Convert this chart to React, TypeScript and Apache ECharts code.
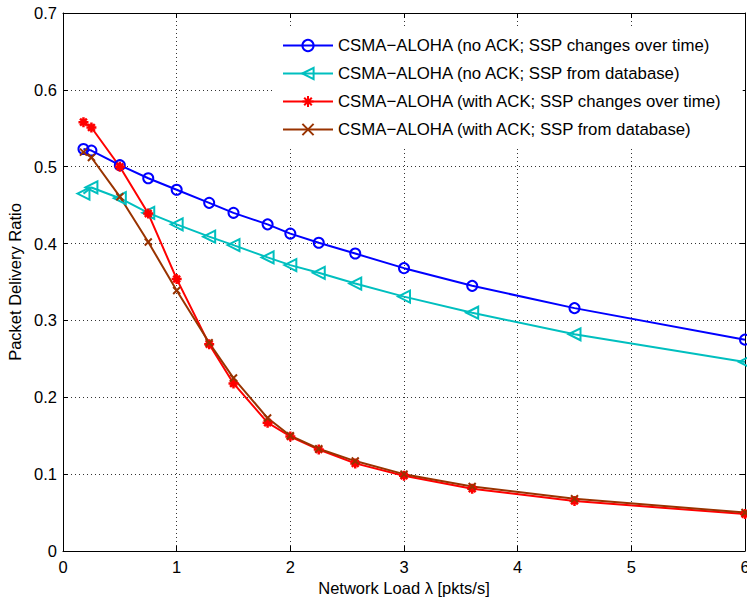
import React, { useEffect, useRef } from "react";
import * as echarts from "echarts";

const xValues = [0.18, 0.25, 0.5, 0.75, 1, 1.286, 1.5, 1.8, 2, 2.25, 2.571, 3, 3.6, 4.5, 6];
const noAckChanges = [0.523, 0.521, 0.502, 0.485, 0.47, 0.453, 0.44, 0.425, 0.413, 0.401, 0.387, 0.368, 0.345, 0.316, 0.275];
const noAckDatabase = [0.465, 0.473, 0.459, 0.44, 0.425, 0.409, 0.398, 0.382, 0.372, 0.362, 0.348, 0.331, 0.31, 0.282, 0.246];
const ackChanges = [0.558, 0.551, 0.5, 0.439, 0.354, 0.269, 0.218, 0.167, 0.149, 0.132, 0.114, 0.098, 0.081, 0.065, 0.048];
const ackDatabase = [0.519, 0.512, 0.461, 0.402, 0.339, 0.271, 0.225, 0.173, 0.15, 0.133, 0.117, 0.1, 0.084, 0.068, 0.05];

const seriesNames = [
  "CSMA\u2212ALOHA (no ACK; SSP changes over time)",
  "CSMA\u2212ALOHA (no ACK; SSP from database)",
  "CSMA\u2212ALOHA (with ACK; SSP changes over time)",
  "CSMA\u2212ALOHA (with ACK; SSP from database)",
];
const xTitle = "Network Load \u03bb [pkts/s]";
const yTitle = "Packet Delivery Ratio";

const FONT = "Liberation Sans, Arial, Helvetica, sans-serif";
const FS = 16.5;

const triLeft = "path://M0,5L10,0L10,10Z";
const asterisk = "path://M5,0L5,10M0,5L10,5M1.6,1.6L8.4,8.4M8.4,1.6L1.6,8.4";
const cross = "path://M0,0L10,10M10,0L0,10";

export default function App() {
  const ref = useRef<HTMLDivElement>(null);
  useEffect(() => {
    if (!ref.current) return;
    const chart = echarts.init(ref.current, null, { renderer: "svg" });
    const mk = (name: string, ys: number[], color: string, symbol: string, size: number, bw: number) => ({
      name,
      type: "line",
      data: xValues.map((x, i) => [x, ys[i]]),
      symbol,
      symbolSize: size,
      showAllSymbol: true,
      lineStyle: { color, width: 2 },
      itemStyle: { color: "none", borderColor: color, borderWidth: bw },
      emphasis: { disabled: true },
      z: 3,
    });
    const axisTick = { show: true, inside: true, length: 5, lineStyle: { color: "#000" } };
    chart.setOption({
      animation: false,
      backgroundColor: "#fff",
      grid: { left: 63, top: 13, right: 2, bottom: 48, containLabel: false, outerBoundsMode: "none" },
      legend: {
        orient: "vertical",
        left: 272,
        top: 28,
        padding: [9, 20, 11, 10],
        backgroundColor: "#fff",
        itemWidth: 50,
        itemHeight: 14,
        itemGap: 11,
        textStyle: { fontFamily: FONT, fontSize: 16.8, color: "#000", lineHeight: 16 },
        data: seriesNames,
        z: 10,
      },
      xAxis: [
        {
          type: "value",
          min: 0,
          max: 6,
          interval: 1,
          name: xTitle,
          nameLocation: "middle",
          nameGap: 24,
          nameTextStyle: { fontFamily: FONT, fontSize: FS, color: "#000" },
          axisLine: { show: true, onZero: false, lineStyle: { color: "#000", width: 1 } },
          axisTick,
          axisLabel: { fontFamily: FONT, fontSize: FS, color: "#000", margin: 7 },
          splitLine: { show: true, lineStyle: { color: "#333", width: 1, type: [1, 3] } },
        },
        {
          type: "value",
          position: "top",
          min: 0,
          max: 6,
          interval: 1,
          axisLine: { show: true, onZero: false, lineStyle: { color: "#000", width: 1 } },
          axisTick,
          axisLabel: { show: false },
          splitLine: { show: false },
        },
      ],
      yAxis: [
        {
          type: "value",
          min: 0,
          max: 0.7,
          interval: 0.1,
          name: yTitle,
          nameLocation: "middle",
          nameGap: 36,
          nameTextStyle: { fontFamily: FONT, fontSize: FS, color: "#000" },
          axisLine: { show: true, onZero: false, lineStyle: { color: "#000", width: 1 } },
          axisTick,
          axisLabel: { fontFamily: FONT, fontSize: FS, color: "#000", margin: 6 },
          splitLine: { show: true, lineStyle: { color: "#333", width: 1, type: [1, 3] } },
        },
        {
          type: "value",
          position: "right",
          min: 0,
          max: 0.7,
          interval: 0.1,
          axisLine: { show: true, onZero: false, lineStyle: { color: "#000", width: 1 } },
          axisTick,
          axisLabel: { show: false },
          splitLine: { show: false },
        },
      ],
      series: [
        mk(seriesNames[0], noAckChanges, "#0000ff", "circle", 10, 2),
        mk(seriesNames[1], noAckDatabase, "#00bfbf", triLeft, 12, 2),
        mk(seriesNames[2], ackChanges, "#ff0000", asterisk, 10, 2.5),
        mk(seriesNames[3], ackDatabase, "#993300", cross, 7, 2),
      ],
    });
    return () => chart.dispose();
  }, []);
  return <div ref={ref} style={{ width: 747, height: 599, position: "absolute", left: 0, top: 0 }} />;
}
